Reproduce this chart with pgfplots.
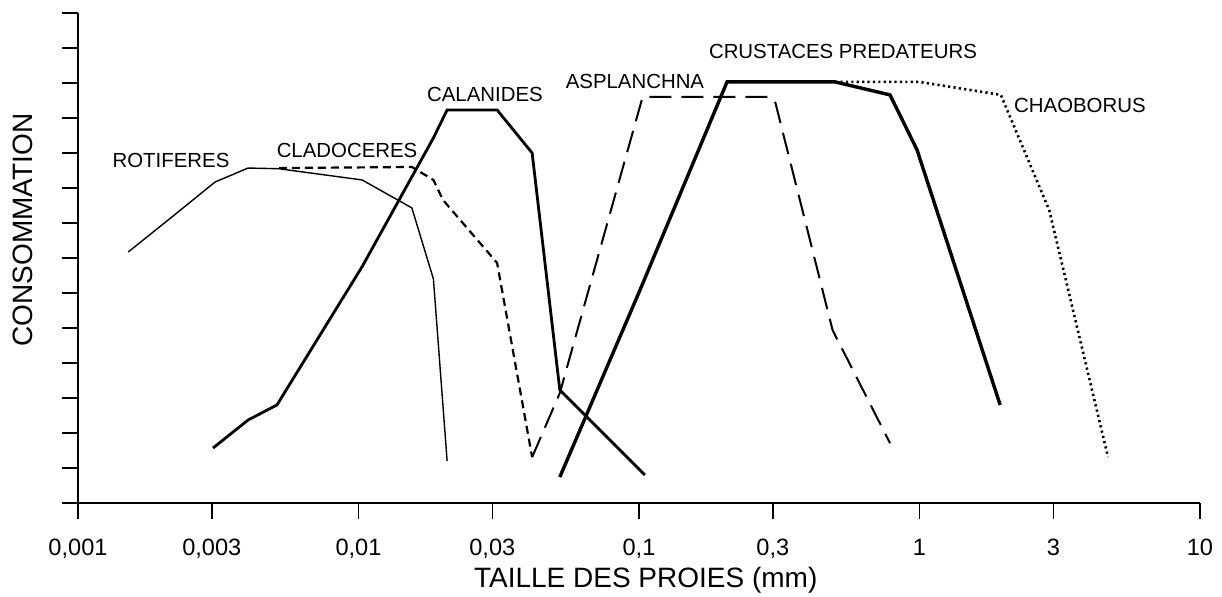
\documentclass[border=0pt]{standalone}
\usepackage{fontspec}
\setmainfont{Liberation Sans}
\usepackage{pgfplots}
\pgfplotsset{compat=1.18}
\begin{document}
\begin{tikzpicture}
\begin{axis}[
  at={(0,0)}, anchor=south west,
  scale only axis, width=561pt, height=245pt,
  xmode=log, log basis x=10,
  xmin=0.001, xmax=10, ymin=0, ymax=14,
  axis lines=left, axis line style={-, line width=0.8pt},
  tick style={line width=0.8pt, black},
  tick align=outside, major tick length=8pt,
  xminorticks=false, yminorticks=false,
  xtick={0.001,0.003,0.01,0.03,0.1,0.3,1,3,10},
  xticklabels={{\textrm{0,001}},{\textrm{0,003}},{\textrm{0,01}},{\textrm{0,03}},{\textrm{0,1}},{\textrm{0,3}},{\textrm{1}},{\textrm{3}},{\textrm{10}}},
  xticklabel style={font=\fontsize{11.8}{12}\selectfont, anchor=north, inner sep=0pt, yshift=-10pt},
  ytick={0,1,...,14}, yticklabels={},
  clip=false,
  xlabel={TAILLE DES PROIES (mm)},
  xlabel style={font=\fontsize{14}{16}\selectfont, at={(axis description cs:0.506,-0.157)}, anchor=center, inner sep=0pt},
  ylabel={CONSOMMATION},
  ylabel style={font=\fontsize{14}{16}\selectfont, at={(axis description cs:-0.049,0.557)}, anchor=center, rotate=0, inner sep=0pt},
]
% ROTIFERES
\addplot[black, line width=0.7pt] coordinates {
(0.00151,7.17) (0.0021,8.09) (0.00308,9.17) (0.00404,9.57) (0.0052,9.55) (0.0103,9.23) (0.0155,8.43) (0.0185,6.4) (0.0207,1.2)};
% CLADOCERES
\addplot[black, line width=1.1pt, dash pattern=on 4pt off 2.5pt] coordinates {
(0.0052,9.57) (0.0155,9.6) (0.0185,9.23) (0.020,8.66) (0.0312,6.86) (0.0416,1.31)};
% CALANIDES
\addplot[black, line width=1.4pt] coordinates {
(0.00303,1.57) (0.00404,2.37) (0.00512,2.8) (0.0103,6.75) (0.0185,10.43) (0.0207,11.23) (0.0312,11.23) (0.0416,10.0) (0.0522,3.23) (0.105,0.8)};
% ASPLANCHNA
\addplot[black, line width=1pt, dash pattern=on 11pt off 5pt] coordinates {
(0.0416,1.31) (0.0522,3.14) (0.103,11.6) (0.295,11.6) (0.305,11.5) (0.49,4.94) (0.785,1.71)};
% CRUSTACES PREDATEURS
\addplot[black, line width=1.7pt] coordinates {
(0.0522,0.74) (0.1009,6.09) (0.206,12.03) (0.5,12.03) (0.785,11.66) (0.98,10.09) (1.94,2.8)};
% CHAOBORUS
\addplot[black, line width=1.3pt, dash pattern=on 1.1pt off 1.6pt] coordinates {
(0.5,12.03) (1.0,12.03) (1.95,11.66) (2.9,8.37) (4.7,1.31)};
\begin{scope}[every node/.style={font=\fontsize{10.2}{12}\selectfont, inner sep=0pt, anchor=center}]
\node at (rel axis cs:0.0829,0.700) {ROTIFERES};
\node at (rel axis cs:0.2398,0.7204) {CLADOCERES};
\node at (rel axis cs:0.3627,0.8327) {CALANIDES};
\node at (rel axis cs:0.4964,0.860) {ASPLANCHNA};
\node at (rel axis cs:0.6818,0.9224) {CRUSTACES PREDATEURS};
\node at (rel axis cs:0.8930,0.8122) {CHAOBORUS};
\end{scope}
\end{axis}
\pgfresetboundingbox
\path[use as bounding box] (-39pt,-47pt) rectangle (572pt,251.5pt);
\end{tikzpicture}
\end{document}
